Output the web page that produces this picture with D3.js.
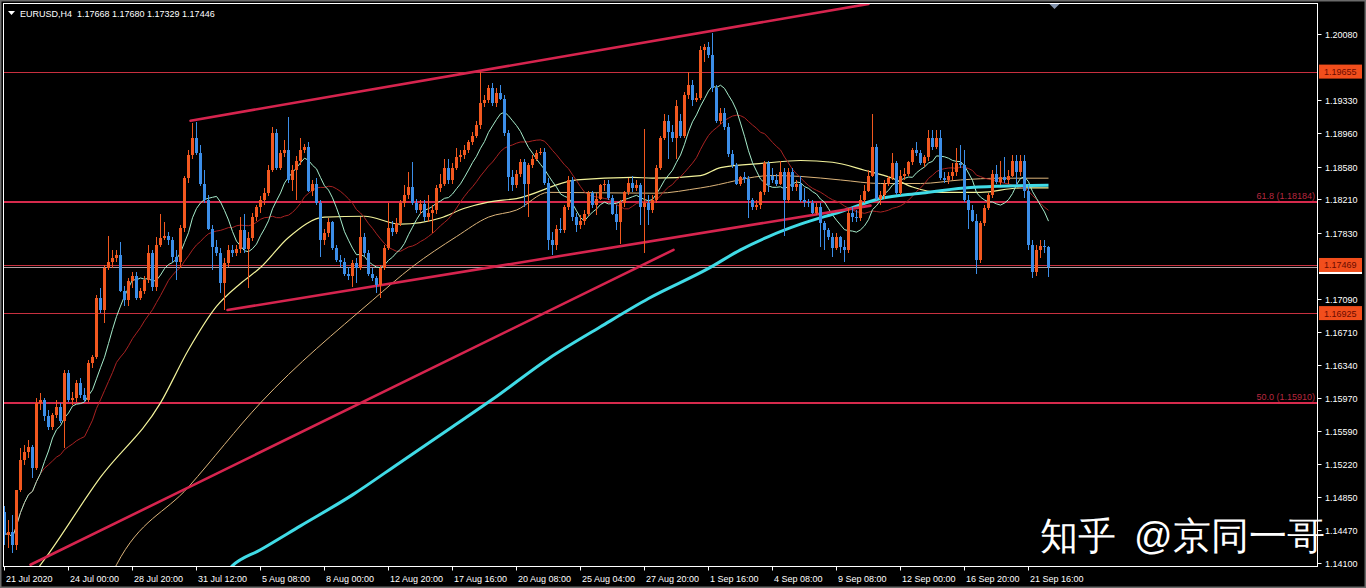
<!DOCTYPE html>
<html><head><meta charset="utf-8">
<script src="https://cdn.jsdelivr.net/npm/d3@7"></script>
<style>
html,body{margin:0;padding:0;background:#000;overflow:hidden}
svg{display:block}
text{font-family:"Liberation Sans",Arial,sans-serif}
</style></head><body>
<svg id="c" width="1366" height="588"></svg>
<script>
// ---------------- DATA ----------------
const symbolTitle = "EURUSD,H4";
const lastOHLC = ["1.17668", "1.17680", "1.17329", "1.17446"];

const opens = [1.1468,1.1442,1.1445,1.1430,1.1492,1.1526,1.1535,1.1541,1.1517,1.1591,
1.1594,1.1576,1.1564,1.1577,1.1586,1.1571,1.1625,1.1594,1.1596,1.1613,
1.1600,1.1594,1.1636,1.1643,1.1710,1.1696,1.1744,1.1750,1.1755,1.1758,
1.1718,1.1707,1.1729,1.1734,1.1710,1.1717,1.1730,1.1760,1.1722,1.1769,
1.1777,1.1780,1.1775,1.1756,1.1750,1.1789,1.1845,1.1871,1.1891,1.1874,
1.1839,1.1820,1.1788,1.1767,1.1760,1.1726,1.1749,1.1764,1.1760,1.1765,
1.1786,1.1765,1.1777,1.1801,1.1812,1.1820,1.1828,1.1854,1.1896,1.1857,
1.1873,1.1877,1.1843,1.1854,1.1865,1.1877,1.1880,1.1831,1.1839,1.1817,
1.1775,1.1783,1.1795,1.1766,1.1752,1.1750,1.1737,1.1735,1.1749,1.1743,
1.1778,1.1760,1.1737,1.1732,1.1724,1.1744,1.1766,1.1789,1.1784,1.1794,
1.1817,1.1826,1.1835,1.1817,1.1809,1.1816,1.1801,1.1806,1.1809,1.1834,
1.1839,1.1857,1.1843,1.1857,1.1869,1.1871,1.1877,1.1886,1.1893,1.1905,
1.1930,1.1933,1.1947,1.1930,1.1941,1.1935,1.1896,1.1846,1.1837,1.1850,
1.1863,1.1839,1.1860,1.1867,1.1873,1.1875,1.1840,1.1775,1.1769,1.1788,
1.1786,1.1812,1.1843,1.1801,1.1792,1.1797,1.1805,1.1828,1.1815,1.1822,
1.1837,1.1839,1.1823,1.1805,1.1795,1.1817,1.1829,1.1840,1.1834,1.1837,
1.1812,1.1817,1.1809,1.1820,1.1857,1.1891,1.1910,1.1897,1.1890,1.1910,
1.1893,1.1939,1.1950,1.1933,1.1936,1.1990,1.1993,1.1984,1.1947,1.1910,
1.1919,1.1903,1.1872,1.1860,1.1839,1.1846,1.1844,1.1820,1.1812,1.1815,
1.1829,1.1862,1.1848,1.1843,1.1839,1.1852,1.1820,1.1852,1.1835,1.1839,
1.1820,1.1818,1.1817,1.1806,1.1812,1.1794,1.1786,1.1778,1.1766,1.1778,
1.1767,1.1764,1.1806,1.1801,1.1800,1.1820,1.1831,1.1848,1.1880,1.1822,
1.1826,1.1839,1.1845,1.1862,1.1828,1.1848,1.1850,1.1863,1.1877,1.1873,
1.1862,1.1869,1.1890,1.1880,1.1890,1.1845,1.1843,1.1847,1.1852,1.1862,
1.1860,1.1820,1.1809,1.1797,1.1752,1.1794,1.1811,1.1826,1.1850,1.1841,
1.1846,1.1843,1.1848,1.1865,1.1852,1.1865,1.1831,1.1769,1.1739,1.1764,
1.1768,1.17668];

const highs = [1.1475,1.1459,1.1464,1.1432,1.1540,1.1543,1.1549,1.1543,1.1596,1.1602,
1.1596,1.1583,1.1580,1.1594,1.1591,1.1628,1.1628,1.1603,1.1617,1.1619,
1.1608,1.1639,1.1645,1.1713,1.1721,1.1747,1.1780,1.1764,1.1764,1.1773,
1.1723,1.1732,1.1739,1.1739,1.1721,1.1734,1.1769,1.1764,1.1778,1.1805,
1.1795,1.1784,1.1779,1.1764,1.1792,1.1848,1.1877,1.1907,1.1908,1.1882,
1.1854,1.1826,1.1792,1.1775,1.1766,1.1755,1.1769,1.1770,1.1769,1.1801,
1.1804,1.1784,1.1806,1.1815,1.1825,1.1834,1.1860,1.1903,1.1901,1.1877,
1.1888,1.1914,1.1860,1.1870,1.1891,1.1884,1.1886,1.1843,1.1845,1.1820,
1.1788,1.1800,1.1797,1.1769,1.1758,1.1755,1.1745,1.1752,1.1755,1.1801,
1.1783,1.1764,1.1743,1.1734,1.1747,1.1769,1.1817,1.1797,1.1800,1.1820,
1.1837,1.1852,1.1863,1.1822,1.1820,1.1820,1.1826,1.1815,1.1837,1.1850,
1.1867,1.1867,1.1862,1.1879,1.1877,1.1882,1.1888,1.1897,1.1910,1.1965,
1.1939,1.1950,1.1953,1.1947,1.1950,1.1939,1.1899,1.1854,1.1854,1.1867,
1.1867,1.1862,1.1871,1.1877,1.1879,1.1879,1.1845,1.1784,1.1792,1.1800,
1.1815,1.1848,1.1846,1.1806,1.1803,1.1809,1.1831,1.1831,1.1828,1.1839,
1.1843,1.1843,1.1826,1.1815,1.1820,1.1831,1.1845,1.1848,1.1843,1.1840,
1.1901,1.1826,1.1826,1.1860,1.1893,1.1918,1.1916,1.1905,1.1933,1.1918,
1.1942,1.1965,1.1956,1.1941,1.1995,1.1997,1.1999,1.2009,1.1950,1.1924,
1.1924,1.1907,1.1877,1.1862,1.1848,1.1852,1.1848,1.1823,1.1820,1.1831,
1.1865,1.1865,1.1856,1.1850,1.1865,1.1856,1.1856,1.1856,1.1843,1.1848,
1.1834,1.1822,1.1820,1.1817,1.1817,1.1797,1.1789,1.1783,1.1783,1.1780,
1.1775,1.1811,1.1812,1.1809,1.1826,1.1837,1.1854,1.1918,1.1884,1.1831,
1.1843,1.1848,1.1873,1.1865,1.1854,1.1856,1.1865,1.1879,1.1886,1.1877,
1.1871,1.1899,1.1899,1.1899,1.1899,1.1852,1.1852,1.1862,1.1879,1.1882,
1.1877,1.1826,1.1815,1.1805,1.1797,1.1815,1.1828,1.1854,1.1860,1.1865,
1.1869,1.1854,1.1871,1.1871,1.1871,1.1871,1.1837,1.1775,1.1769,1.1775,
1.1775,1.17680];

const lows = [1.1430,1.1427,1.1421,1.1425,1.1490,1.1521,1.1529,1.1506,1.1515,1.1583,
1.1571,1.1560,1.1560,1.1574,1.1568,1.1540,1.1592,1.1589,1.1592,1.1597,
1.1592,1.1592,1.1630,1.1641,1.1693,1.1681,1.1741,1.1743,1.1750,1.1716,
1.1700,1.1700,1.1721,1.1707,1.1707,1.1714,1.1726,1.1718,1.1718,1.1767,
1.1775,1.1770,1.1750,1.1730,1.1743,1.1784,1.1840,1.1867,1.1871,1.1836,
1.1817,1.1786,1.1741,1.1757,1.1715,1.1696,1.1745,1.1756,1.1757,1.1761,
1.1761,1.1721,1.1774,1.1797,1.1806,1.1815,1.1825,1.1852,1.1854,1.1854,
1.1869,1.1840,1.1831,1.1820,1.1860,1.1873,1.1829,1.1825,1.1815,1.1756,
1.1769,1.1779,1.1764,1.1750,1.1745,1.1734,1.1730,1.1722,1.1726,1.1741,
1.1757,1.1734,1.1729,1.1715,1.1710,1.1741,1.1764,1.1780,1.1782,1.1791,
1.1813,1.1822,1.1815,1.1806,1.1805,1.1797,1.1795,1.1783,1.1805,1.1829,
1.1836,1.1839,1.1839,1.1854,1.1863,1.1867,1.1873,1.1882,1.1890,1.1901,
1.1926,1.1930,1.1927,1.1926,1.1933,1.1893,1.1831,1.1831,1.1834,1.1846,
1.1812,1.1801,1.1856,1.1865,1.1871,1.1837,1.1764,1.1758,1.1764,1.1783,
1.1783,1.1809,1.1797,1.1784,1.1788,1.1792,1.1802,1.1811,1.1803,1.1820,
1.1831,1.1820,1.1803,1.1786,1.1771,1.1813,1.1826,1.1829,1.1831,1.1792,
1.1761,1.1792,1.1806,1.1817,1.1854,1.1888,1.1867,1.1886,1.1867,1.1891,
1.1891,1.1935,1.1927,1.1931,1.1933,1.1976,1.1981,1.1942,1.1907,1.1906,
1.1899,1.1869,1.1857,1.1837,1.1836,1.1840,1.1800,1.1809,1.1809,1.1810,
1.1826,1.1829,1.1840,1.1836,1.1837,1.1780,1.1817,1.1831,1.1831,1.1818,
1.1812,1.1813,1.1805,1.1803,1.1767,1.1764,1.1775,1.1756,1.1764,1.1760,
1.1750,1.1761,1.1795,1.1795,1.1797,1.1817,1.1829,1.1846,1.1820,1.1815,
1.1822,1.1836,1.1843,1.1826,1.1826,1.1843,1.1847,1.1860,1.1870,1.1860,
1.1858,1.1865,1.1877,1.1878,1.1843,1.1840,1.1839,1.1843,1.1848,1.1856,
1.1818,1.1788,1.1795,1.1737,1.1749,1.1791,1.1809,1.1823,1.1839,1.1837,
1.1840,1.1839,1.1846,1.1837,1.1848,1.1823,1.1764,1.1732,1.1734,1.1755,
1.1761,1.17329];

const closes = [1.1442,1.1445,1.1430,1.1492,1.1526,1.1535,1.1541,1.1517,1.1591,1.1594,
1.1576,1.1564,1.1577,1.1586,1.1571,1.1625,1.1594,1.1596,1.1613,1.1600,
1.1594,1.1636,1.1643,1.1710,1.1696,1.1744,1.1750,1.1755,1.1758,1.1718,
1.1707,1.1729,1.1734,1.1710,1.1717,1.1730,1.1760,1.1722,1.1769,1.1777,
1.1780,1.1775,1.1756,1.1750,1.1789,1.1845,1.1871,1.1891,1.1874,1.1839,
1.1820,1.1788,1.1767,1.1760,1.1726,1.1749,1.1764,1.1760,1.1765,1.1786,
1.1765,1.1777,1.1801,1.1812,1.1820,1.1828,1.1854,1.1896,1.1857,1.1873,
1.1877,1.1843,1.1854,1.1865,1.1877,1.1880,1.1831,1.1839,1.1817,1.1775,
1.1783,1.1795,1.1766,1.1752,1.1750,1.1737,1.1735,1.1749,1.1743,1.1778,
1.1760,1.1737,1.1732,1.1724,1.1744,1.1766,1.1789,1.1784,1.1794,1.1817,
1.1826,1.1835,1.1817,1.1809,1.1816,1.1801,1.1806,1.1809,1.1834,1.1839,
1.1857,1.1843,1.1857,1.1869,1.1871,1.1877,1.1886,1.1893,1.1905,1.1930,
1.1933,1.1947,1.1930,1.1941,1.1935,1.1896,1.1846,1.1837,1.1850,1.1863,
1.1839,1.1860,1.1867,1.1873,1.1875,1.1840,1.1775,1.1769,1.1788,1.1786,
1.1812,1.1843,1.1801,1.1792,1.1797,1.1805,1.1828,1.1815,1.1822,1.1837,
1.1839,1.1823,1.1805,1.1795,1.1817,1.1829,1.1840,1.1834,1.1837,1.1812,
1.1817,1.1809,1.1820,1.1857,1.1891,1.1910,1.1897,1.1890,1.1927,1.1893,
1.1939,1.1950,1.1933,1.1936,1.1990,1.1993,1.1984,1.1947,1.1910,1.1919,
1.1903,1.1872,1.1860,1.1839,1.1846,1.1844,1.1820,1.1812,1.1815,1.1829,
1.1862,1.1837,1.1843,1.1839,1.1852,1.1820,1.1852,1.1835,1.1839,1.1820,
1.1818,1.1817,1.1806,1.1812,1.1794,1.1786,1.1778,1.1766,1.1778,1.1767,
1.1764,1.1806,1.1801,1.1800,1.1820,1.1831,1.1848,1.1880,1.1822,1.1826,
1.1839,1.1845,1.1862,1.1828,1.1848,1.1850,1.1863,1.1877,1.1873,1.1862,
1.1869,1.1890,1.1880,1.1890,1.1845,1.1843,1.1847,1.1852,1.1862,1.1860,
1.1820,1.1809,1.1797,1.1752,1.1794,1.1811,1.1826,1.1850,1.1841,1.1846,
1.1843,1.1848,1.1865,1.1852,1.1865,1.1831,1.1769,1.1739,1.1764,1.1768,
1.1767,1.17446];

// time axis: bar index of each label and its text
const timeTickIdx = [0,16,32,48,64,80,96,112,128,144,160,176,192,208,224,240,256];
const timeLabels = ["21 Jul 2020","24 Jul 00:00","28 Jul 20:00","31 Jul 12:00","5 Aug 08:00","8 Aug 00:00",
  "12 Aug 20:00","17 Aug 16:00","20 Aug 08:00","25 Aug 04:00","27 Aug 20:00","1 Sep 16:00",
  "4 Sep 08:00","9 Sep 08:00","12 Sep 00:00","16 Sep 20:00","21 Sep 16:00"];

// price axis labels
const priceTicks = ["1.20080","1.19330","1.18960","1.18580","1.18210","1.17830",
  "1.17090","1.16710","1.16340","1.15970","1.15590","1.15220","1.14850","1.14470","1.14100"];

// horizontal levels
const levelPrices = [1.19655, 1.17469, 1.16925];
const levelLabels = ["1.19655", "1.17469", "1.16925"];
const fibPrices = [1.18184, 1.15910];
const fibLabels = ["61.8 (1.18184)", "50.0 (1.15910)"];
const bidPrice = 1.17446;

// trend lines: [barIndex, price] pairs
const trendUpper = [[46.5, 1.1910], [216, 1.2042]];
const trendLower = [[55.75, 1.1696], [216.5, 1.1814]];
const trendLong  = [[6.5, 1.1408], [167.25, 1.1764]];

// long moving averages: [barIndex, value]
const maYellow = [[6,1.1390],[10,1.1414],[24,1.1507],[39,1.1591],[46,1.1651],[53,1.1700],[59,1.1726],
  [64,1.1744],[71,1.1778],[80,1.1801],[90,1.1802],[99,1.1793],[109,1.1800],[115,1.1811],[121,1.1818],
  [128,1.1822],[143,1.1843],[157,1.1846],[162,1.1845],[174,1.1848],[179,1.1857],[190,1.1862],[199,1.1865],
  [207,1.1863],[215,1.1854],[222,1.1845],[227,1.1835],[234,1.1829],[244,1.1829],[254,1.1834],[261,1.1834]];
const maTan = [[24,1.1370],[28,1.1408],[46,1.1496],[64,1.1591],[92,1.1707],[102,1.1745],[113,1.1779],
  [121,1.1801],[128,1.1809],[136,1.1829],[163,1.1828],[174,1.1834],[192,1.1848],[199,1.1847],[209,1.1843],
  [219,1.1839],[229,1.1839],[239,1.1843],[249,1.1845],[261,1.1845]];
const maCyan = [[52,1.1380],[57,1.1407],[64,1.1425],[74,1.1452],[87,1.1487],[99,1.1524],[112,1.1564],
  [122,1.1595],[136,1.1641],[149,1.1677],[161,1.1709],[176,1.1743],[184,1.1764],[191,1.1779],[199,1.1793],
  [209,1.1807],[219,1.1822],[229,1.1828],[240,1.1834],[249,1.1836],[261,1.1837]];

const fastPeriod = 10, slowPeriod = 21;
const watermark1 = "知乎", watermark2 = "@京同一哥";

// ---------------- DRAW ----------------
const svg = d3.select("#c");
const W = 1366, H = 588;
const P = {l: 3.5, t: 3.5, r: 1317.5, b: 566.5};

svg.append("rect").attr("width", W).attr("height", H).attr("fill", "#000");

const x = d3.scaleLinear().domain([0, 261]).range([4.5, 1048.5]);
const y = d3.scaleLinear().domain([1.14100, 1.20080]).range([563, 34]);

svg.append("defs").append("clipPath").attr("id", "pc")
  .append("rect").attr("x", P.l).attr("y", P.t).attr("width", P.r - P.l).attr("height", P.b - P.t);

const g = svg.append("g").attr("clip-path", "url(#pc)");

function sma(arr, n) {
  return arr.map((v, i) => {
    const s = Math.max(0, i - n + 1);
    return [i, d3.mean(arr.slice(s, i + 1))];
  });
}

// horizontal levels
g.selectAll("line.lvl").data(levelPrices).join("line")
  .attr("x1", P.l).attr("x2", P.r)
  .attr("y1", d => Math.round(y(d)) + 0.5).attr("y2", d => Math.round(y(d)) + 0.5)
  .attr("stroke", "#c8303f").attr("stroke-width", 1);
g.append("line").attr("x1", P.l).attr("x2", P.r)
  .attr("y1", Math.round(y(bidPrice)) + 0.5).attr("y2", Math.round(y(bidPrice)) + 0.5)
  .attr("stroke", "#b0a0a4").attr("stroke-width", 1);
g.selectAll("line.fib").data(fibPrices).join("line")
  .attr("x1", P.l).attr("x2", P.r)
  .attr("y1", d => Math.round(y(d))).attr("y2", d => Math.round(y(d)))
  .attr("stroke", "#d62a4c").attr("stroke-width", 2);

// moving averages
const lineGen = d3.line().x(d => x(d[0])).y(d => y(d[1]));
const smoothGen = d3.line().x(d => x(d[0])).y(d => y(d[1])).curve(d3.curveMonotoneX);
g.append("path").datum(maTan).attr("d", smoothGen).attr("fill", "none").attr("stroke", "#dcb47a").attr("stroke-width", 1);
g.append("path").datum(maYellow).attr("d", smoothGen).attr("fill", "none").attr("stroke", "#f2f29a").attr("stroke-width", 1.2);
g.append("path").datum(sma(closes, slowPeriod)).attr("d", lineGen).attr("fill", "none").attr("stroke", "#a82222").attr("stroke-width", 1);
g.append("path").datum(sma(closes, fastPeriod)).attr("d", lineGen).attr("fill", "none").attr("stroke", "#a6eccb").attr("stroke-width", 1);
g.append("path").datum(maCyan).attr("d", smoothGen).attr("fill", "none").attr("stroke", "#40dbe6").attr("stroke-width", 3);

// trend lines
[trendUpper, trendLower, trendLong].forEach(t => {
  g.append("path").datum(t).attr("d", lineGen).attr("fill", "none")
    .attr("stroke", "#d6244e").attr("stroke-width", 2.6).attr("stroke-linecap", "round");
});

// candles
const bars = closes.map((c, i) => ({i, o: opens[i], h: highs[i], l: lows[i], c}));
const up = "#f2581f", dn = "#3c8ee8";
g.selectAll("line.wick").data(bars).join("line")
  .attr("x1", d => x(d.i)).attr("x2", d => x(d.i))
  .attr("y1", d => y(d.h)).attr("y2", d => y(d.l))
  .attr("stroke", d => d.c >= d.o ? up : dn).attr("stroke-width", 1)
  .attr("shape-rendering", "crispEdges");
g.selectAll("rect.body").data(bars).join("rect")
  .attr("x", d => x(d.i) - 1.5).attr("width", 3)
  .attr("y", d => Math.min(y(d.o), y(d.c)))
  .attr("height", d => Math.max(1, Math.abs(y(d.o) - y(d.c))))
  .attr("fill", d => d.c >= d.o ? up : dn)
  .attr("shape-rendering", "crispEdges");

// fib labels
svg.selectAll("text.fibl").data(fibPrices).join("text")
  .attr("x", 1315).attr("y", d => y(d) - 3)
  .attr("text-anchor", "end").attr("font-size", 9).attr("fill", "#b8283f")
  .text((d, i) => fibLabels[i]);

// frame
svg.append("rect").attr("x", 0.5).attr("y", 0.5).attr("width", W - 1).attr("height", H - 1)
  .attr("fill", "none").attr("stroke", "#6a6a6a").attr("stroke-width", 2);
svg.append("rect").attr("x", P.l).attr("y", P.t).attr("width", P.r - P.l).attr("height", P.b - P.t)
  .attr("fill", "none").attr("stroke", "#fff").attr("stroke-width", 1).attr("shape-rendering", "crispEdges");

// price axis
const pa = svg.append("g");
priceTicks.forEach(t => {
  const yy = Math.round(y(+t)) + 0.5;
  pa.append("line").attr("x1", P.r).attr("x2", P.r + 4).attr("y1", yy).attr("y2", yy).attr("stroke", "#fff");
  pa.append("text").attr("x", 1325).attr("y", yy + 3.5).attr("font-size", 9).attr("fill", "#fff").text(t);
});

// bid label strip (behind) and level labels
pa.append("rect").attr("x", 1319).attr("y", y(bidPrice) - 5).attr("width", 43).attr("height", 12).attr("fill", "#fff");
levelPrices.forEach((p, i) => {
  const yy = y(p);
  pa.append("rect").attr("x", 1319).attr("y", yy - 7).attr("width", 43).attr("height", 14).attr("fill", "#f24e1c");
  pa.append("text").attr("x", 1324).attr("y", yy + 3.5).attr("font-size", 9).attr("fill", "#6a0c00").text(levelLabels[i]);
});

// time axis
const ta = svg.append("g");
timeTickIdx.forEach((ti, k) => {
  const xx = Math.floor(x(ti)) + 0.5;
  ta.append("line").attr("x1", xx).attr("x2", xx).attr("y1", P.b).attr("y2", P.b + 4).attr("stroke", "#fff");
  ta.append("text").attr("x", xx + 1.5).attr("y", 582).attr("font-size", 9).attr("fill", "#fff").text(timeLabels[k]);
});

// header
svg.append("path").attr("d", `M8,11 L15,11 L11.5,15 Z`).attr("fill", "#fff");
svg.append("text").attr("x", 20).attr("y", 16.5).attr("font-size", 9).attr("fill", "#fff")
  .attr("xml:space", "preserve")
  .text(symbolTitle + "  " + lastOHLC.join(" "));

// chart shift marker
const sx = x(262.5);
svg.append("path").attr("d", `M${sx - 5},4 L${sx + 5},4 L${sx},9 Z`).attr("fill", "#8494ae");

// watermark
svg.append("text").attr("x", 1040).attr("y", 549).attr("font-size", 38)
  .attr("font-family", "'Noto Sans CJK SC', sans-serif").attr("fill", "#fff").text(watermark1);
svg.append("text").attr("x", 1134).attr("y", 549).attr("font-size", 38)
  .attr("font-family", "'Noto Sans CJK SC', sans-serif").attr("fill", "#fff").text(watermark2);
</script>
</body></html>
